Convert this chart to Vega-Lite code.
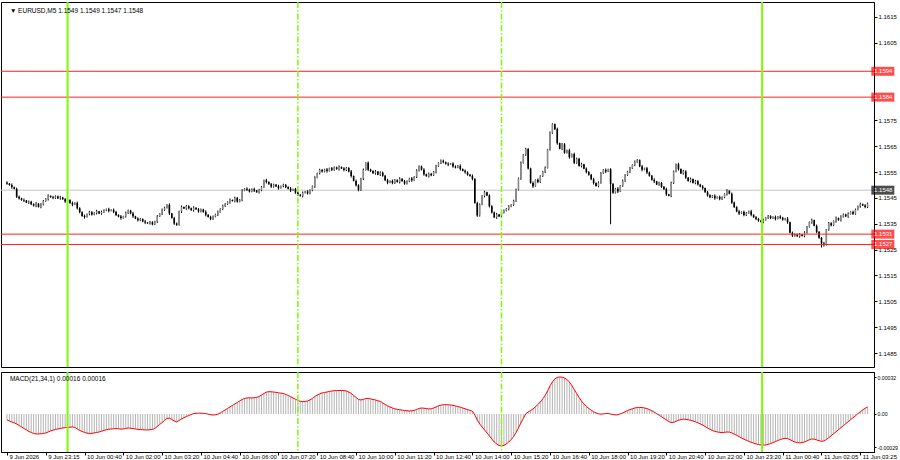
{
"$schema": "https://vega.github.io/schema/vega-lite/v6.json",
"background": "#ffffff",
"padding": 0,
"autosize": {"type": "pad"},
"spacing": 1,
"config": {
  "view": {"stroke": "#000000", "strokeWidth": 1},
  "font": "Liberation Sans",
  "axis": {"grid": false, "domainColor": "#000000", "tickColor": "#000000", "labelColor": "#000000", "labelFont": "Liberation Sans", "labelFontSize": 6, "tickSize": 3}
},
"datasets": {
"levels": [{"p":1.1594,"kind":"level"},{"p":1.1584,"kind":"level"},{"p":1.1548,"kind":"bid"},{"p":1.1531,"kind":"level"},{"p":1.1527,"kind":"level"}],
"vlines": [{"i":25,"kind":"solid"},{"i":120,"kind":"dashdot"},{"i":204,"kind":"dashdot"},{"i":311.5,"kind":"solid"}],
"bars": [
{"i":0,"o":1.15510,"h":1.15514,"l":1.15501,"c":1.15505,"m":-0.000052},
{"i":1,"o":1.15505,"h":1.15508,"l":1.15497,"c":1.15500,"m":-0.000061},
{"i":2,"o":1.15500,"h":1.15506,"l":1.15486,"c":1.15492,"m":-0.000070},
{"i":3,"o":1.15492,"h":1.15494,"l":1.15483,"c":1.15485,"m":-0.000078},
{"i":4,"o":1.15485,"h":1.15490,"l":1.15450,"c":1.15455,"m":-0.000087},
{"i":5,"o":1.15455,"h":1.15459,"l":1.15444,"c":1.15448,"m":-0.000100},
{"i":6,"o":1.15448,"h":1.15451,"l":1.15439,"c":1.15442,"m":-0.000113},
{"i":7,"o":1.15442,"h":1.15448,"l":1.15434,"c":1.15440,"m":-0.000126},
{"i":8,"o":1.15440,"h":1.15442,"l":1.15430,"c":1.15432,"m":-0.000139},
{"i":9,"o":1.15432,"h":1.15440,"l":1.15427,"c":1.15435,"m":-0.000152},
{"i":10,"o":1.15435,"h":1.15439,"l":1.15422,"c":1.15426,"m":-0.000161},
{"i":11,"o":1.15426,"h":1.15429,"l":1.15417,"c":1.15420,"m":-0.000170},
{"i":12,"o":1.15420,"h":1.15434,"l":1.15414,"c":1.15428,"m":-0.000174},
{"i":13,"o":1.15428,"h":1.15430,"l":1.15413,"c":1.15415,"m":-0.000174},
{"i":14,"o":1.15415,"h":1.15430,"l":1.15410,"c":1.15425,"m":-0.000172},
{"i":15,"o":1.15425,"h":1.15442,"l":1.15421,"c":1.15438,"m":-0.000170},
{"i":16,"o":1.15438,"h":1.15449,"l":1.15435,"c":1.15446,"m":-0.000165},
{"i":17,"o":1.15446,"h":1.15464,"l":1.15440,"c":1.15458,"m":-0.000157},
{"i":18,"o":1.15458,"h":1.15460,"l":1.15451,"c":1.15453,"m":-0.000148},
{"i":19,"o":1.15453,"h":1.15458,"l":1.15445,"c":1.15450,"m":-0.000141},
{"i":20,"o":1.15450,"h":1.15460,"l":1.15446,"c":1.15456,"m":-0.000135},
{"i":21,"o":1.15456,"h":1.15459,"l":1.15446,"c":1.15449,"m":-0.000131},
{"i":22,"o":1.15449,"h":1.15458,"l":1.15443,"c":1.15452,"m":-0.000126},
{"i":23,"o":1.15452,"h":1.15454,"l":1.15443,"c":1.15445,"m":-0.000122},
{"i":24,"o":1.15445,"h":1.15450,"l":1.15431,"c":1.15436,"m":-0.000119},
{"i":25,"o":1.15436,"h":1.15446,"l":1.15432,"c":1.15442,"m":-0.000117},
{"i":26,"o":1.15442,"h":1.15445,"l":1.15427,"c":1.15430,"m":-0.000115},
{"i":27,"o":1.15430,"h":1.15436,"l":1.15418,"c":1.15424,"m":-0.000113},
{"i":28,"o":1.15424,"h":1.15433,"l":1.15422,"c":1.15431,"m":-0.000117},
{"i":29,"o":1.15431,"h":1.15436,"l":1.15405,"c":1.15410,"m":-0.000131},
{"i":30,"o":1.15410,"h":1.15414,"l":1.15391,"c":1.15395,"m":-0.000144},
{"i":31,"o":1.15395,"h":1.15398,"l":1.15377,"c":1.15380,"m":-0.000152},
{"i":32,"o":1.15380,"h":1.15386,"l":1.15370,"c":1.15376,"m":-0.000161},
{"i":33,"o":1.15376,"h":1.15390,"l":1.15374,"c":1.15388,"m":-0.000167},
{"i":34,"o":1.15388,"h":1.15400,"l":1.15383,"c":1.15395,"m":-0.000170},
{"i":35,"o":1.15395,"h":1.15399,"l":1.15382,"c":1.15386,"m":-0.000169},
{"i":36,"o":1.15386,"h":1.15395,"l":1.15383,"c":1.15392,"m":-0.000165},
{"i":37,"o":1.15392,"h":1.15404,"l":1.15386,"c":1.15398,"m":-0.000161},
{"i":38,"o":1.15398,"h":1.15400,"l":1.15388,"c":1.15390,"m":-0.000157},
{"i":39,"o":1.15390,"h":1.15401,"l":1.15385,"c":1.15396,"m":-0.000150},
{"i":40,"o":1.15396,"h":1.15406,"l":1.15392,"c":1.15402,"m":-0.000143},
{"i":41,"o":1.15402,"h":1.15409,"l":1.15399,"c":1.15406,"m":-0.000137},
{"i":42,"o":1.15406,"h":1.15412,"l":1.15394,"c":1.15400,"m":-0.000133},
{"i":43,"o":1.15400,"h":1.15406,"l":1.15398,"c":1.15404,"m":-0.000131},
{"i":44,"o":1.15404,"h":1.15409,"l":1.15391,"c":1.15396,"m":-0.000129},
{"i":45,"o":1.15396,"h":1.15400,"l":1.15380,"c":1.15384,"m":-0.000127},
{"i":46,"o":1.15384,"h":1.15387,"l":1.15375,"c":1.15378,"m":-0.000129},
{"i":47,"o":1.15378,"h":1.15384,"l":1.15366,"c":1.15372,"m":-0.000132},
{"i":48,"o":1.15372,"h":1.15381,"l":1.15370,"c":1.15379,"m":-0.000131},
{"i":49,"o":1.15379,"h":1.15397,"l":1.15374,"c":1.15392,"m":-0.000126},
{"i":50,"o":1.15392,"h":1.15405,"l":1.15388,"c":1.15401,"m":-0.000122},
{"i":51,"o":1.15401,"h":1.15404,"l":1.15387,"c":1.15390,"m":-0.000124},
{"i":52,"o":1.15390,"h":1.15396,"l":1.15373,"c":1.15379,"m":-0.000127},
{"i":53,"o":1.15379,"h":1.15381,"l":1.15368,"c":1.15370,"m":-0.000131},
{"i":54,"o":1.15370,"h":1.15375,"l":1.15359,"c":1.15364,"m":-0.000134},
{"i":55,"o":1.15364,"h":1.15372,"l":1.15360,"c":1.15368,"m":-0.000136},
{"i":56,"o":1.15368,"h":1.15371,"l":1.15356,"c":1.15359,"m":-0.000137},
{"i":57,"o":1.15359,"h":1.15365,"l":1.15349,"c":1.15355,"m":-0.000139},
{"i":58,"o":1.15355,"h":1.15357,"l":1.15350,"c":1.15352,"m":-0.000139},
{"i":59,"o":1.15352,"h":1.15361,"l":1.15347,"c":1.15356,"m":-0.000137},
{"i":60,"o":1.15356,"h":1.15360,"l":1.15344,"c":1.15348,"m":-0.000136},
{"i":61,"o":1.15348,"h":1.15362,"l":1.15345,"c":1.15359,"m":-0.000126},
{"i":62,"o":1.15359,"h":1.15384,"l":1.15353,"c":1.15378,"m":-0.000109},
{"i":63,"o":1.15378,"h":1.15391,"l":1.15376,"c":1.15389,"m":-0.000091},
{"i":64,"o":1.15389,"h":1.15409,"l":1.15384,"c":1.15404,"m":-0.000074},
{"i":65,"o":1.15404,"h":1.15416,"l":1.15400,"c":1.15412,"m":-0.000057},
{"i":66,"o":1.15412,"h":1.15426,"l":1.15409,"c":1.15423,"m":-0.000039},
{"i":67,"o":1.15423,"h":1.15429,"l":1.15384,"c":1.15390,"m":-0.000037},
{"i":68,"o":1.15390,"h":1.15392,"l":1.15370,"c":1.15372,"m":-0.000048},
{"i":69,"o":1.15372,"h":1.15377,"l":1.15346,"c":1.15351,"m":-0.000061},
{"i":70,"o":1.15351,"h":1.15355,"l":1.15342,"c":1.15346,"m":-0.000070},
{"i":71,"o":1.15346,"h":1.15401,"l":1.15343,"c":1.15398,"m":-0.000057},
{"i":72,"o":1.15398,"h":1.15421,"l":1.15392,"c":1.15415,"m":-0.000044},
{"i":73,"o":1.15415,"h":1.15417,"l":1.15407,"c":1.15409,"m":-0.000033},
{"i":74,"o":1.15409,"h":1.15423,"l":1.15404,"c":1.15418,"m":-0.000023},
{"i":75,"o":1.15418,"h":1.15422,"l":1.15406,"c":1.15410,"m":-0.000014},
{"i":76,"o":1.15410,"h":1.15413,"l":1.15400,"c":1.15403,"m":-0.000005},
{"i":77,"o":1.15403,"h":1.15418,"l":1.15397,"c":1.15412,"m":0.000003},
{"i":78,"o":1.15412,"h":1.15414,"l":1.15404,"c":1.15406,"m":0.000006},
{"i":79,"o":1.15406,"h":1.15411,"l":1.15393,"c":1.15398,"m":0.000007},
{"i":80,"o":1.15398,"h":1.15409,"l":1.15394,"c":1.15405,"m":0.000007},
{"i":81,"o":1.15405,"h":1.15408,"l":1.15393,"c":1.15396,"m":0.000005},
{"i":82,"o":1.15396,"h":1.15402,"l":1.15379,"c":1.15385,"m":0.000003},
{"i":83,"o":1.15385,"h":1.15387,"l":1.15374,"c":1.15376,"m":-0.000002},
{"i":84,"o":1.15376,"h":1.15381,"l":1.15364,"c":1.15369,"m":-0.000007},
{"i":85,"o":1.15369,"h":1.15382,"l":1.15365,"c":1.15378,"m":-0.000009},
{"i":86,"o":1.15378,"h":1.15389,"l":1.15375,"c":1.15386,"m":-0.000007},
{"i":87,"o":1.15386,"h":1.15401,"l":1.15380,"c":1.15395,"m":-0.000002},
{"i":88,"o":1.15395,"h":1.15410,"l":1.15393,"c":1.15408,"m":0.000009},
{"i":89,"o":1.15408,"h":1.15424,"l":1.15403,"c":1.15419,"m":0.000022},
{"i":90,"o":1.15419,"h":1.15430,"l":1.15415,"c":1.15426,"m":0.000035},
{"i":91,"o":1.15426,"h":1.15437,"l":1.15423,"c":1.15434,"m":0.000048},
{"i":92,"o":1.15434,"h":1.15448,"l":1.15428,"c":1.15442,"m":0.000061},
{"i":93,"o":1.15442,"h":1.15444,"l":1.15436,"c":1.15438,"m":0.000074},
{"i":94,"o":1.15438,"h":1.15455,"l":1.15433,"c":1.15450,"m":0.000087},
{"i":95,"o":1.15450,"h":1.15454,"l":1.15432,"c":1.15436,"m":0.000100},
{"i":96,"o":1.15436,"h":1.15446,"l":1.15433,"c":1.15443,"m":0.000113},
{"i":97,"o":1.15443,"h":1.15484,"l":1.15437,"c":1.15478,"m":0.000126},
{"i":98,"o":1.15478,"h":1.15488,"l":1.15476,"c":1.15486,"m":0.000135},
{"i":99,"o":1.15486,"h":1.15491,"l":1.15477,"c":1.15482,"m":0.000139},
{"i":100,"o":1.15482,"h":1.15486,"l":1.15471,"c":1.15475,"m":0.000141},
{"i":101,"o":1.15475,"h":1.15487,"l":1.15472,"c":1.15484,"m":0.000139},
{"i":102,"o":1.15484,"h":1.15490,"l":1.15473,"c":1.15479,"m":0.000141},
{"i":103,"o":1.15479,"h":1.15481,"l":1.15470,"c":1.15472,"m":0.000144},
{"i":104,"o":1.15472,"h":1.15485,"l":1.15467,"c":1.15480,"m":0.000152},
{"i":105,"o":1.15480,"h":1.15496,"l":1.15476,"c":1.15492,"m":0.000165},
{"i":106,"o":1.15492,"h":1.15521,"l":1.15489,"c":1.15518,"m":0.000178},
{"i":107,"o":1.15518,"h":1.15524,"l":1.15506,"c":1.15512,"m":0.000190},
{"i":108,"o":1.15512,"h":1.15514,"l":1.15501,"c":1.15503,"m":0.000194},
{"i":109,"o":1.15503,"h":1.15508,"l":1.15489,"c":1.15494,"m":0.000193},
{"i":110,"o":1.15494,"h":1.15505,"l":1.15490,"c":1.15501,"m":0.000191},
{"i":111,"o":1.15501,"h":1.15504,"l":1.15492,"c":1.15495,"m":0.000188},
{"i":112,"o":1.15495,"h":1.15501,"l":1.15482,"c":1.15488,"m":0.000184},
{"i":113,"o":1.15488,"h":1.15498,"l":1.15486,"c":1.15496,"m":0.000181},
{"i":114,"o":1.15496,"h":1.15505,"l":1.15491,"c":1.15500,"m":0.000178},
{"i":115,"o":1.15500,"h":1.15504,"l":1.15488,"c":1.15492,"m":0.000170},
{"i":116,"o":1.15492,"h":1.15495,"l":1.15483,"c":1.15486,"m":0.000161},
{"i":117,"o":1.15486,"h":1.15492,"l":1.15473,"c":1.15479,"m":0.000150},
{"i":118,"o":1.15479,"h":1.15486,"l":1.15477,"c":1.15484,"m":0.000139},
{"i":119,"o":1.15484,"h":1.15489,"l":1.15466,"c":1.15471,"m":0.000129},
{"i":120,"o":1.15471,"h":1.15475,"l":1.15458,"c":1.15462,"m":0.000117},
{"i":121,"o":1.15462,"h":1.15465,"l":1.15455,"c":1.15458,"m":0.000110},
{"i":122,"o":1.15458,"h":1.15475,"l":1.15452,"c":1.15469,"m":0.000107},
{"i":123,"o":1.15469,"h":1.15477,"l":1.15467,"c":1.15475,"m":0.000109},
{"i":124,"o":1.15475,"h":1.15480,"l":1.15463,"c":1.15468,"m":0.000113},
{"i":125,"o":1.15468,"h":1.15483,"l":1.15464,"c":1.15479,"m":0.000122},
{"i":126,"o":1.15479,"h":1.15498,"l":1.15476,"c":1.15495,"m":0.000135},
{"i":127,"o":1.15495,"h":1.15534,"l":1.15489,"c":1.15528,"m":0.000152},
{"i":128,"o":1.15528,"h":1.15548,"l":1.15526,"c":1.15546,"m":0.000165},
{"i":129,"o":1.15546,"h":1.15563,"l":1.15541,"c":1.15558,"m":0.000174},
{"i":130,"o":1.15558,"h":1.15562,"l":1.15548,"c":1.15552,"m":0.000183},
{"i":131,"o":1.15552,"h":1.15563,"l":1.15549,"c":1.15560,"m":0.000187},
{"i":132,"o":1.15560,"h":1.15566,"l":1.15548,"c":1.15554,"m":0.000191},
{"i":133,"o":1.15554,"h":1.15567,"l":1.15552,"c":1.15565,"m":0.000196},
{"i":134,"o":1.15565,"h":1.15570,"l":1.15554,"c":1.15559,"m":0.000200},
{"i":135,"o":1.15559,"h":1.15572,"l":1.15555,"c":1.15568,"m":0.000202},
{"i":136,"o":1.15568,"h":1.15571,"l":1.15559,"c":1.15562,"m":0.000204},
{"i":137,"o":1.15562,"h":1.15576,"l":1.15556,"c":1.15570,"m":0.000204},
{"i":138,"o":1.15570,"h":1.15572,"l":1.15562,"c":1.15564,"m":0.000204},
{"i":139,"o":1.15564,"h":1.15569,"l":1.15553,"c":1.15558,"m":0.000203},
{"i":140,"o":1.15558,"h":1.15570,"l":1.15554,"c":1.15566,"m":0.000200},
{"i":141,"o":1.15566,"h":1.15569,"l":1.15549,"c":1.15552,"m":0.000191},
{"i":142,"o":1.15552,"h":1.15558,"l":1.15529,"c":1.15535,"m":0.000178},
{"i":143,"o":1.15535,"h":1.15537,"l":1.15514,"c":1.15516,"m":0.000161},
{"i":144,"o":1.15516,"h":1.15521,"l":1.15494,"c":1.15499,"m":0.000144},
{"i":145,"o":1.15499,"h":1.15503,"l":1.15476,"c":1.15480,"m":0.000126},
{"i":146,"o":1.15480,"h":1.15528,"l":1.15477,"c":1.15525,"m":0.000122},
{"i":147,"o":1.15525,"h":1.15564,"l":1.15519,"c":1.15558,"m":0.000126},
{"i":148,"o":1.15558,"h":1.15588,"l":1.15556,"c":1.15586,"m":0.000135},
{"i":149,"o":1.15586,"h":1.15591,"l":1.15554,"c":1.15559,"m":0.000135},
{"i":150,"o":1.15559,"h":1.15563,"l":1.15550,"c":1.15554,"m":0.000131},
{"i":151,"o":1.15554,"h":1.15557,"l":1.15543,"c":1.15546,"m":0.000126},
{"i":152,"o":1.15546,"h":1.15558,"l":1.15540,"c":1.15552,"m":0.000122},
{"i":153,"o":1.15552,"h":1.15554,"l":1.15538,"c":1.15540,"m":0.000115},
{"i":154,"o":1.15540,"h":1.15553,"l":1.15535,"c":1.15548,"m":0.000109},
{"i":155,"o":1.15548,"h":1.15552,"l":1.15532,"c":1.15536,"m":0.000096},
{"i":156,"o":1.15536,"h":1.15539,"l":1.15515,"c":1.15518,"m":0.000083},
{"i":157,"o":1.15518,"h":1.15524,"l":1.15503,"c":1.15509,"m":0.000071},
{"i":158,"o":1.15509,"h":1.15518,"l":1.15507,"c":1.15516,"m":0.000061},
{"i":159,"o":1.15516,"h":1.15521,"l":1.15503,"c":1.15508,"m":0.000052},
{"i":160,"o":1.15508,"h":1.15523,"l":1.15504,"c":1.15519,"m":0.000045},
{"i":161,"o":1.15519,"h":1.15522,"l":1.15509,"c":1.15512,"m":0.000040},
{"i":162,"o":1.15512,"h":1.15530,"l":1.15506,"c":1.15524,"m":0.000037},
{"i":163,"o":1.15524,"h":1.15526,"l":1.15513,"c":1.15515,"m":0.000033},
{"i":164,"o":1.15515,"h":1.15520,"l":1.15501,"c":1.15506,"m":0.000030},
{"i":165,"o":1.15506,"h":1.15518,"l":1.15502,"c":1.15514,"m":0.000028},
{"i":166,"o":1.15514,"h":1.15528,"l":1.15511,"c":1.15525,"m":0.000026},
{"i":167,"o":1.15525,"h":1.15531,"l":1.15512,"c":1.15518,"m":0.000028},
{"i":168,"o":1.15518,"h":1.15534,"l":1.15516,"c":1.15532,"m":0.000031},
{"i":169,"o":1.15532,"h":1.15561,"l":1.15527,"c":1.15556,"m":0.000039},
{"i":170,"o":1.15556,"h":1.15576,"l":1.15552,"c":1.15572,"m":0.000048},
{"i":171,"o":1.15572,"h":1.15575,"l":1.15556,"c":1.15559,"m":0.000052},
{"i":172,"o":1.15559,"h":1.15565,"l":1.15536,"c":1.15542,"m":0.000050},
{"i":173,"o":1.15542,"h":1.15544,"l":1.15532,"c":1.15534,"m":0.000047},
{"i":174,"o":1.15534,"h":1.15548,"l":1.15529,"c":1.15543,"m":0.000044},
{"i":175,"o":1.15543,"h":1.15547,"l":1.15534,"c":1.15538,"m":0.000045},
{"i":176,"o":1.15538,"h":1.15554,"l":1.15535,"c":1.15551,"m":0.000052},
{"i":177,"o":1.15551,"h":1.15578,"l":1.15545,"c":1.15572,"m":0.000061},
{"i":178,"o":1.15572,"h":1.15588,"l":1.15570,"c":1.15586,"m":0.000070},
{"i":179,"o":1.15586,"h":1.15599,"l":1.15581,"c":1.15594,"m":0.000077},
{"i":180,"o":1.15594,"h":1.15598,"l":1.15584,"c":1.15588,"m":0.000080},
{"i":181,"o":1.15588,"h":1.15591,"l":1.15579,"c":1.15582,"m":0.000081},
{"i":182,"o":1.15582,"h":1.15588,"l":1.15573,"c":1.15579,"m":0.000080},
{"i":183,"o":1.15579,"h":1.15585,"l":1.15577,"c":1.15583,"m":0.000078},
{"i":184,"o":1.15583,"h":1.15588,"l":1.15567,"c":1.15572,"m":0.000075},
{"i":185,"o":1.15572,"h":1.15576,"l":1.15564,"c":1.15568,"m":0.000070},
{"i":186,"o":1.15568,"h":1.15577,"l":1.15565,"c":1.15574,"m":0.000064},
{"i":187,"o":1.15574,"h":1.15580,"l":1.15556,"c":1.15562,"m":0.000059},
{"i":188,"o":1.15562,"h":1.15564,"l":1.15553,"c":1.15555,"m":0.000052},
{"i":189,"o":1.15555,"h":1.15560,"l":1.15544,"c":1.15549,"m":0.000045},
{"i":190,"o":1.15549,"h":1.15553,"l":1.15536,"c":1.15540,"m":0.000038},
{"i":191,"o":1.15540,"h":1.15543,"l":1.15532,"c":1.15535,"m":0.000031},
{"i":192,"o":1.15535,"h":1.15541,"l":1.15518,"c":1.15524,"m":0.000024},
{"i":193,"o":1.15524,"h":1.15526,"l":1.15428,"c":1.15430,"m":-0.000009},
{"i":194,"o":1.15430,"h":1.15435,"l":1.15377,"c":1.15382,"m":-0.000052},
{"i":195,"o":1.15382,"h":1.15429,"l":1.15378,"c":1.15425,"m":-0.000087},
{"i":196,"o":1.15425,"h":1.15461,"l":1.15422,"c":1.15458,"m":-0.000113},
{"i":197,"o":1.15458,"h":1.15478,"l":1.15452,"c":1.15472,"m":-0.000139},
{"i":198,"o":1.15472,"h":1.15474,"l":1.15457,"c":1.15459,"m":-0.000165},
{"i":199,"o":1.15459,"h":1.15464,"l":1.15413,"c":1.15418,"m":-0.000191},
{"i":200,"o":1.15418,"h":1.15422,"l":1.15390,"c":1.15394,"m":-0.000218},
{"i":201,"o":1.15394,"h":1.15397,"l":1.15372,"c":1.15375,"m":-0.000244},
{"i":202,"o":1.15375,"h":1.15392,"l":1.15369,"c":1.15386,"m":-0.000261},
{"i":203,"o":1.15386,"h":1.15388,"l":1.15376,"c":1.15378,"m":-0.000274},
{"i":204,"o":1.15378,"h":1.15399,"l":1.15373,"c":1.15394,"m":-0.000278},
{"i":205,"o":1.15394,"h":1.15405,"l":1.15390,"c":1.15401,"m":-0.000274},
{"i":206,"o":1.15401,"h":1.15411,"l":1.15398,"c":1.15408,"m":-0.000261},
{"i":207,"o":1.15408,"h":1.15422,"l":1.15402,"c":1.15416,"m":-0.000244},
{"i":208,"o":1.15416,"h":1.15426,"l":1.15414,"c":1.15424,"m":-0.000222},
{"i":209,"o":1.15424,"h":1.15443,"l":1.15419,"c":1.15438,"m":-0.000196},
{"i":210,"o":1.15438,"h":1.15486,"l":1.15434,"c":1.15482,"m":-0.000161},
{"i":211,"o":1.15482,"h":1.15529,"l":1.15479,"c":1.15526,"m":-0.000122},
{"i":212,"o":1.15526,"h":1.15591,"l":1.15520,"c":1.15585,"m":-0.000078},
{"i":213,"o":1.15585,"h":1.15620,"l":1.15583,"c":1.15618,"m":-0.000039},
{"i":214,"o":1.15618,"h":1.15644,"l":1.15613,"c":1.15639,"m":0.000001},
{"i":215,"o":1.15639,"h":1.15643,"l":1.15560,"c":1.15564,"m":0.000017},
{"i":216,"o":1.15564,"h":1.15567,"l":1.15505,"c":1.15508,"m":0.000030},
{"i":217,"o":1.15508,"h":1.15514,"l":1.15489,"c":1.15495,"m":0.000044},
{"i":218,"o":1.15495,"h":1.15522,"l":1.15493,"c":1.15520,"m":0.000061},
{"i":219,"o":1.15520,"h":1.15525,"l":1.15507,"c":1.15512,"m":0.000083},
{"i":220,"o":1.15512,"h":1.15538,"l":1.15508,"c":1.15534,"m":0.000104},
{"i":221,"o":1.15534,"h":1.15555,"l":1.15531,"c":1.15552,"m":0.000131},
{"i":222,"o":1.15552,"h":1.15572,"l":1.15546,"c":1.15566,"m":0.000161},
{"i":223,"o":1.15566,"h":1.15640,"l":1.15564,"c":1.15638,"m":0.000200},
{"i":224,"o":1.15638,"h":1.15707,"l":1.15633,"c":1.15702,"m":0.000244},
{"i":225,"o":1.15702,"h":1.15739,"l":1.15698,"c":1.15735,"m":0.000278},
{"i":226,"o":1.15735,"h":1.15738,"l":1.15713,"c":1.15716,"m":0.000305},
{"i":227,"o":1.15716,"h":1.15722,"l":1.15656,"c":1.15662,"m":0.000318},
{"i":228,"o":1.15662,"h":1.15664,"l":1.15638,"c":1.15640,"m":0.000322},
{"i":229,"o":1.15640,"h":1.15663,"l":1.15635,"c":1.15658,"m":0.000320},
{"i":230,"o":1.15658,"h":1.15662,"l":1.15621,"c":1.15625,"m":0.000313},
{"i":231,"o":1.15625,"h":1.15637,"l":1.15622,"c":1.15634,"m":0.000300},
{"i":232,"o":1.15634,"h":1.15640,"l":1.15602,"c":1.15608,"m":0.000278},
{"i":233,"o":1.15608,"h":1.15622,"l":1.15606,"c":1.15620,"m":0.000248},
{"i":234,"o":1.15620,"h":1.15625,"l":1.15581,"c":1.15586,"m":0.000213},
{"i":235,"o":1.15586,"h":1.15606,"l":1.15582,"c":1.15602,"m":0.000178},
{"i":236,"o":1.15602,"h":1.15605,"l":1.15571,"c":1.15574,"m":0.000144},
{"i":237,"o":1.15574,"h":1.15586,"l":1.15568,"c":1.15580,"m":0.000113},
{"i":238,"o":1.15580,"h":1.15582,"l":1.15561,"c":1.15563,"m":0.000087},
{"i":239,"o":1.15563,"h":1.15568,"l":1.15545,"c":1.15550,"m":0.000065},
{"i":240,"o":1.15550,"h":1.15554,"l":1.15536,"c":1.15540,"m":0.000048},
{"i":241,"o":1.15540,"h":1.15543,"l":1.15519,"c":1.15522,"m":0.000033},
{"i":242,"o":1.15522,"h":1.15528,"l":1.15502,"c":1.15508,"m":0.000019},
{"i":243,"o":1.15508,"h":1.15510,"l":1.15494,"c":1.15496,"m":0.000009},
{"i":244,"o":1.15496,"h":1.15514,"l":1.15491,"c":1.15509,"m":0.000002},
{"i":245,"o":1.15509,"h":1.15550,"l":1.15505,"c":1.15546,"m":-0.000002},
{"i":246,"o":1.15546,"h":1.15561,"l":1.15543,"c":1.15558,"m":0.000001},
{"i":247,"o":1.15558,"h":1.15564,"l":1.15546,"c":1.15552,"m":0.000003},
{"i":248,"o":1.15552,"h":1.15563,"l":1.15550,"c":1.15561,"m":0.000005},
{"i":249,"o":1.15561,"h":1.15565,"l":1.15348,"c":1.15504,"m":-0.000001},
{"i":250,"o":1.15504,"h":1.15508,"l":1.15466,"c":1.15470,"m":-0.000005},
{"i":251,"o":1.15470,"h":1.15489,"l":1.15467,"c":1.15486,"m":-0.000009},
{"i":252,"o":1.15486,"h":1.15492,"l":1.15469,"c":1.15475,"m":-0.000007},
{"i":253,"o":1.15475,"h":1.15500,"l":1.15473,"c":1.15498,"m":0.000001},
{"i":254,"o":1.15498,"h":1.15521,"l":1.15493,"c":1.15516,"m":0.000009},
{"i":255,"o":1.15516,"h":1.15542,"l":1.15512,"c":1.15538,"m":0.000019},
{"i":256,"o":1.15538,"h":1.15555,"l":1.15535,"c":1.15552,"m":0.000030},
{"i":257,"o":1.15552,"h":1.15570,"l":1.15546,"c":1.15564,"m":0.000038},
{"i":258,"o":1.15564,"h":1.15580,"l":1.15562,"c":1.15578,"m":0.000045},
{"i":259,"o":1.15578,"h":1.15595,"l":1.15573,"c":1.15590,"m":0.000052},
{"i":260,"o":1.15590,"h":1.15600,"l":1.15586,"c":1.15596,"m":0.000056},
{"i":261,"o":1.15596,"h":1.15599,"l":1.15569,"c":1.15572,"m":0.000057},
{"i":262,"o":1.15572,"h":1.15578,"l":1.15553,"c":1.15559,"m":0.000056},
{"i":263,"o":1.15559,"h":1.15567,"l":1.15557,"c":1.15565,"m":0.000052},
{"i":264,"o":1.15565,"h":1.15570,"l":1.15543,"c":1.15548,"m":0.000047},
{"i":265,"o":1.15548,"h":1.15552,"l":1.15532,"c":1.15536,"m":0.000038},
{"i":266,"o":1.15536,"h":1.15539,"l":1.15517,"c":1.15520,"m":0.000028},
{"i":267,"o":1.15520,"h":1.15526,"l":1.15508,"c":1.15514,"m":0.000016},
{"i":268,"o":1.15514,"h":1.15516,"l":1.15500,"c":1.15502,"m":0.000003},
{"i":269,"o":1.15502,"h":1.15513,"l":1.15497,"c":1.15508,"m":-0.000010},
{"i":270,"o":1.15508,"h":1.15512,"l":1.15489,"c":1.15493,"m":-0.000024},
{"i":271,"o":1.15493,"h":1.15496,"l":1.15481,"c":1.15484,"m":-0.000038},
{"i":272,"o":1.15484,"h":1.15490,"l":1.15458,"c":1.15464,"m":-0.000052},
{"i":273,"o":1.15464,"h":1.15466,"l":1.15456,"c":1.15458,"m":-0.000066},
{"i":274,"o":1.15458,"h":1.15513,"l":1.15453,"c":1.15508,"m":-0.000075},
{"i":275,"o":1.15508,"h":1.15556,"l":1.15504,"c":1.15552,"m":-0.000073},
{"i":276,"o":1.15552,"h":1.15583,"l":1.15549,"c":1.15580,"m":-0.000064},
{"i":277,"o":1.15580,"h":1.15586,"l":1.15556,"c":1.15562,"m":-0.000054},
{"i":278,"o":1.15562,"h":1.15564,"l":1.15543,"c":1.15545,"m":-0.000049},
{"i":279,"o":1.15545,"h":1.15558,"l":1.15540,"c":1.15553,"m":-0.000045},
{"i":280,"o":1.15553,"h":1.15557,"l":1.15524,"c":1.15528,"m":-0.000047},
{"i":281,"o":1.15528,"h":1.15531,"l":1.15513,"c":1.15516,"m":-0.000050},
{"i":282,"o":1.15516,"h":1.15529,"l":1.15510,"c":1.15523,"m":-0.000056},
{"i":283,"o":1.15523,"h":1.15525,"l":1.15506,"c":1.15508,"m":-0.000061},
{"i":284,"o":1.15508,"h":1.15520,"l":1.15503,"c":1.15515,"m":-0.000068},
{"i":285,"o":1.15515,"h":1.15519,"l":1.15498,"c":1.15502,"m":-0.000077},
{"i":286,"o":1.15502,"h":1.15505,"l":1.15491,"c":1.15494,"m":-0.000087},
{"i":287,"o":1.15494,"h":1.15500,"l":1.15482,"c":1.15488,"m":-0.000097},
{"i":288,"o":1.15488,"h":1.15490,"l":1.15470,"c":1.15472,"m":-0.000110},
{"i":289,"o":1.15472,"h":1.15477,"l":1.15455,"c":1.15460,"m":-0.000122},
{"i":290,"o":1.15460,"h":1.15464,"l":1.15449,"c":1.15453,"m":-0.000134},
{"i":291,"o":1.15453,"h":1.15461,"l":1.15450,"c":1.15458,"m":-0.000144},
{"i":292,"o":1.15458,"h":1.15464,"l":1.15443,"c":1.15449,"m":-0.000151},
{"i":293,"o":1.15449,"h":1.15456,"l":1.15447,"c":1.15454,"m":-0.000157},
{"i":294,"o":1.15454,"h":1.15459,"l":1.15441,"c":1.15446,"m":-0.000160},
{"i":295,"o":1.15446,"h":1.15456,"l":1.15442,"c":1.15452,"m":-0.000162},
{"i":296,"o":1.15452,"h":1.15468,"l":1.15449,"c":1.15465,"m":-0.000160},
{"i":297,"o":1.15465,"h":1.15484,"l":1.15459,"c":1.15478,"m":-0.000157},
{"i":298,"o":1.15478,"h":1.15480,"l":1.15464,"c":1.15466,"m":-0.000158},
{"i":299,"o":1.15466,"h":1.15471,"l":1.15427,"c":1.15432,"m":-0.000165},
{"i":300,"o":1.15432,"h":1.15436,"l":1.15411,"c":1.15415,"m":-0.000176},
{"i":301,"o":1.15415,"h":1.15418,"l":1.15395,"c":1.15398,"m":-0.000186},
{"i":302,"o":1.15398,"h":1.15404,"l":1.15384,"c":1.15390,"m":-0.000197},
{"i":303,"o":1.15390,"h":1.15398,"l":1.15388,"c":1.15396,"m":-0.000209},
{"i":304,"o":1.15396,"h":1.15401,"l":1.15379,"c":1.15384,"m":-0.000219},
{"i":305,"o":1.15384,"h":1.15396,"l":1.15380,"c":1.15392,"m":-0.000230},
{"i":306,"o":1.15392,"h":1.15401,"l":1.15389,"c":1.15398,"m":-0.000238},
{"i":307,"o":1.15398,"h":1.15404,"l":1.15379,"c":1.15385,"m":-0.000247},
{"i":308,"o":1.15385,"h":1.15387,"l":1.15373,"c":1.15375,"m":-0.000254},
{"i":309,"o":1.15375,"h":1.15380,"l":1.15364,"c":1.15369,"m":-0.000261},
{"i":310,"o":1.15369,"h":1.15373,"l":1.15358,"c":1.15362,"m":-0.000266},
{"i":311,"o":1.15362,"h":1.15365,"l":1.15355,"c":1.15358,"m":-0.000270},
{"i":312,"o":1.15358,"h":1.15370,"l":1.15352,"c":1.15364,"m":-0.000271},
{"i":313,"o":1.15364,"h":1.15376,"l":1.15362,"c":1.15374,"m":-0.000270},
{"i":314,"o":1.15374,"h":1.15384,"l":1.15369,"c":1.15379,"m":-0.000264},
{"i":315,"o":1.15379,"h":1.15383,"l":1.15368,"c":1.15372,"m":-0.000258},
{"i":316,"o":1.15372,"h":1.15379,"l":1.15369,"c":1.15376,"m":-0.000249},
{"i":317,"o":1.15376,"h":1.15382,"l":1.15363,"c":1.15369,"m":-0.000240},
{"i":318,"o":1.15369,"h":1.15380,"l":1.15367,"c":1.15378,"m":-0.000231},
{"i":319,"o":1.15378,"h":1.15383,"l":1.15368,"c":1.15373,"m":-0.000223},
{"i":320,"o":1.15373,"h":1.15377,"l":1.15362,"c":1.15366,"m":-0.000216},
{"i":321,"o":1.15366,"h":1.15373,"l":1.15363,"c":1.15370,"m":-0.000212},
{"i":322,"o":1.15370,"h":1.15376,"l":1.15350,"c":1.15356,"m":-0.000214},
{"i":323,"o":1.15356,"h":1.15358,"l":1.15313,"c":1.15315,"m":-0.000223},
{"i":324,"o":1.15315,"h":1.15320,"l":1.15299,"c":1.15304,"m":-0.000235},
{"i":325,"o":1.15304,"h":1.15313,"l":1.15300,"c":1.15309,"m":-0.000244},
{"i":326,"o":1.15309,"h":1.15312,"l":1.15299,"c":1.15302,"m":-0.000249},
{"i":327,"o":1.15302,"h":1.15314,"l":1.15296,"c":1.15308,"m":-0.000251},
{"i":328,"o":1.15308,"h":1.15310,"l":1.15301,"c":1.15303,"m":-0.000249},
{"i":329,"o":1.15303,"h":1.15321,"l":1.15298,"c":1.15316,"m":-0.000244},
{"i":330,"o":1.15316,"h":1.15342,"l":1.15312,"c":1.15338,"m":-0.000235},
{"i":331,"o":1.15338,"h":1.15359,"l":1.15335,"c":1.15356,"m":-0.000224},
{"i":332,"o":1.15356,"h":1.15370,"l":1.15350,"c":1.15364,"m":-0.000218},
{"i":333,"o":1.15364,"h":1.15366,"l":1.15340,"c":1.15342,"m":-0.000219},
{"i":334,"o":1.15342,"h":1.15347,"l":1.15313,"c":1.15318,"m":-0.000226},
{"i":335,"o":1.15318,"h":1.15322,"l":1.15292,"c":1.15296,"m":-0.000233},
{"i":336,"o":1.15296,"h":1.15299,"l":1.15258,"c":1.15274,"m":-0.000238},
{"i":337,"o":1.15274,"h":1.15280,"l":1.15262,"c":1.15268,"m":-0.000235},
{"i":338,"o":1.15268,"h":1.15330,"l":1.15266,"c":1.15328,"m":-0.000223},
{"i":339,"o":1.15328,"h":1.15357,"l":1.15323,"c":1.15352,"m":-0.000207},
{"i":340,"o":1.15352,"h":1.15356,"l":1.15340,"c":1.15344,"m":-0.000190},
{"i":341,"o":1.15344,"h":1.15363,"l":1.15341,"c":1.15360,"m":-0.000172},
{"i":342,"o":1.15360,"h":1.15378,"l":1.15354,"c":1.15372,"m":-0.000155},
{"i":343,"o":1.15372,"h":1.15374,"l":1.15362,"c":1.15364,"m":-0.000137},
{"i":344,"o":1.15364,"h":1.15383,"l":1.15359,"c":1.15378,"m":-0.000120},
{"i":345,"o":1.15378,"h":1.15390,"l":1.15374,"c":1.15386,"m":-0.000103},
{"i":346,"o":1.15386,"h":1.15389,"l":1.15376,"c":1.15379,"m":-0.000085},
{"i":347,"o":1.15379,"h":1.15394,"l":1.15373,"c":1.15388,"m":-0.000068},
{"i":348,"o":1.15388,"h":1.15398,"l":1.15386,"c":1.15396,"m":-0.000050},
{"i":349,"o":1.15396,"h":1.15401,"l":1.15384,"c":1.15389,"m":-0.000033},
{"i":350,"o":1.15389,"h":1.15409,"l":1.15385,"c":1.15405,"m":-0.000016},
{"i":351,"o":1.15405,"h":1.15421,"l":1.15402,"c":1.15418,"m":0.000002},
{"i":352,"o":1.15418,"h":1.15432,"l":1.15412,"c":1.15426,"m":0.000019},
{"i":353,"o":1.15426,"h":1.15428,"l":1.15419,"c":1.15421,"m":0.000035},
{"i":354,"o":1.15421,"h":1.15426,"l":1.15410,"c":1.15415,"m":0.000049},
{"i":355,"o":1.15415,"h":1.15432,"l":1.15411,"c":1.15428,"m":0.000061}
]
},
"vconcat": [
{
  "width": 873,
  "height": 365,
  "resolve": {"axis": {"x": "independent", "y": "independent"}},
  "layer": [
    {
      "data": {"name": "levels"},
      "transform": [{"filter": "datum.kind == 'bid'"}],
      "mark": {"type": "rule", "color": "#c4c4c4", "strokeWidth": 1},
      "encoding": {
        "y": {"field": "p", "type": "quantitative", "scale": {"domain": [1.14796, 1.16208], "nice": false, "zero": false},
              "axis": {"orient": "right", "values": [1.1485,1.1495,1.1505,1.1515,1.1525,1.1535,1.1545,1.1555,1.1565,1.1575,1.1605,1.1615], "format": ".4f", "labelPadding": 1, "labelFontSize": 6, "title": null}}
      }
    },
    {
      "data": {"name": "bars"},
      "mark": {"type": "rule", "color": "#000000", "strokeWidth": 1},
      "encoding": {
        "x": {"field": "i", "type": "quantitative", "scale": {"domain": [-0.4, 355.6], "nice": false, "zero": false}, "axis": null},
        "y": {"field": "l", "type": "quantitative", "scale": {"domain": [1.14796, 1.16208], "nice": false, "zero": false}, "axis": null},
        "y2": {"field": "h"}
      }
    },
    {
      "data": {"name": "bars"},
      "mark": {"type": "bar", "width": 1.6},
      "encoding": {
        "x": {"field": "i", "type": "quantitative", "scale": {"domain": [-0.4, 355.6], "nice": false, "zero": false}, "axis": null},
        "y": {"field": "o", "type": "quantitative", "scale": {"domain": [1.14796, 1.16208], "nice": false, "zero": false}, "axis": null},
        "y2": {"field": "c"},
        "color": {"condition": {"test": "datum.c >= datum.o", "value": "#8c8c8c"}, "value": "#000000"}
      }
    },
    {
      "data": {"name": "levels"},
      "transform": [{"filter": "datum.kind == 'level'"}],
      "mark": {"type": "rule", "color": "#ff2020", "strokeWidth": 1},
      "encoding": {
        "y": {"field": "p", "type": "quantitative", "scale": {"domain": [1.14796, 1.16208], "nice": false, "zero": false}, "axis": null}
      }
    },
    {
      "data": {"name": "vlines"},
      "transform": [{"filter": "datum.kind == 'solid'"}],
      "mark": {"type": "rule", "color": "#7cfc00", "strokeWidth": 2},
      "encoding": {
        "x": {"field": "i", "type": "quantitative", "scale": {"domain": [-0.4, 355.6], "nice": false, "zero": false}, "axis": null}
      }
    },
    {
      "data": {"name": "vlines"},
      "transform": [{"filter": "datum.kind == 'dashdot'"}],
      "mark": {"type": "rule", "color": "#7cfc00", "strokeWidth": 1.5, "strokeDash": [6, 2, 1.5, 2]},
      "encoding": {
        "x": {"field": "i", "type": "quantitative", "scale": {"domain": [-0.4, 355.6], "nice": false, "zero": false}, "axis": null}
      }
    },
    {
      "data": {"values": [{"label": "▼ EURUSD,M5  1.1549 1.1549 1.1547 1.1548"}]},
      "mark": {"type": "text", "align": "left", "baseline": "middle", "fontSize": 6.5, "color": "#000000"},
      "encoding": {
        "x": {"datum": 1.2, "type": "quantitative", "scale": {"domain": [-0.4, 355.6], "nice": false, "zero": false}, "axis": null},
        "y": {"datum": 1.16173, "type": "quantitative", "scale": {"domain": [1.14796, 1.16208], "nice": false, "zero": false}, "axis": null},
        "text": {"field": "label", "type": "nominal"}
      }
    },
    {
      "data": {"name": "levels"},
      "mark": {"type": "tick", "orient": "horizontal", "size": 23, "thickness": 9},
      "encoding": {
        "x": {"datum": 361.3, "type": "quantitative", "scale": {"domain": [-0.4, 355.6], "nice": false, "zero": false}, "axis": null},
        "y": {"field": "p", "type": "quantitative", "scale": {"domain": [1.14796, 1.16208], "nice": false, "zero": false}, "axis": null},
        "color": {"field": "kind", "type": "nominal", "scale": {"domain": ["level", "bid"], "range": ["#ff0000", "#000000"]}, "legend": null}
      }
    },
    {
      "data": {"name": "levels"},
      "mark": {"type": "text", "align": "left", "baseline": "middle", "fontSize": 6, "color": "#ffffff"},
      "encoding": {
        "x": {"datum": 357.7, "type": "quantitative", "scale": {"domain": [-0.4, 355.6], "nice": false, "zero": false}, "axis": null},
        "y": {"field": "p", "type": "quantitative", "scale": {"domain": [1.14796, 1.16208], "nice": false, "zero": false}, "axis": null},
        "text": {"field": "p", "type": "quantitative", "format": ".4f"}
      }
    }
  ]
},
{
  "width": 873,
  "height": 80,
  "resolve": {"axis": {"x": "independent", "y": "independent"}},
  "layer": [
    {
      "data": {"name": "bars"},
      "mark": {"type": "bar", "width": 1, "color": "#b4b4b4"},
      "encoding": {
        "x": {"field": "i", "type": "quantitative", "scale": {"domain": [-0.4, 355.6], "nice": false, "zero": false},
              "axis": {"orient": "bottom", "values": [0,16,32,48,64,80,96,112,128,144,160,176,192,208,224,240,256,272,288,304,320,336,352],
                       "labelExpr": "['9 Jun 2026','9 Jun 23:15','10 Jun 00:40','10 Jun 02:00','10 Jun 03:20','10 Jun 04:40','10 Jun 06:00','10 Jun 07:20','10 Jun 08:40','10 Jun 10:00','10 Jun 11:20','10 Jun 12:40','10 Jun 14:00','10 Jun 15:20','10 Jun 16:40','10 Jun 18:00','10 Jun 19:20','10 Jun 20:40','10 Jun 22:00','10 Jun 23:20','11 Jun 00:40','11 Jun 02:05','11 Jun 03:25'][round(datum.value / 16)]",
                       "labelAlign": "left", "labelBaseline": "top", "labelPadding": -2, "tickSize": 3, "labelFlush": false, "labelOverlap": false, "labelBound": false, "labelFontSize": 6, "labelOffset": 2, "title": null}},
        "y": {"field": "m", "type": "quantitative", "scale": {"domain": [-0.000331, 0.000365], "nice": false, "zero": false},
              "axis": {"orient": "right", "values": [0.00032, 0, -0.00029], "labelExpr": "datum.value == 0 ? '0.00' : (datum.value < 0 ? '-' + format(-datum.value, '.5f') : format(datum.value, '.5f'))", "labelPadding": 1, "tickSize": 2, "labelFontSize": 5.2, "title": null}},
        "y2": {"datum": 0}
      }
    },
    {
      "data": {"name": "bars"},
      "mark": {"type": "line", "color": "#ff0000", "strokeWidth": 1},
      "encoding": {
        "x": {"field": "i", "type": "quantitative", "scale": {"domain": [-0.4, 355.6], "nice": false, "zero": false}, "axis": null},
        "y": {"field": "m", "type": "quantitative", "scale": {"domain": [-0.000331, 0.000365], "nice": false, "zero": false}, "axis": null}
      }
    },
    {
      "data": {"name": "vlines"},
      "transform": [{"filter": "datum.kind == 'solid'"}],
      "mark": {"type": "rule", "color": "#7cfc00", "strokeWidth": 2},
      "encoding": {
        "x": {"field": "i", "type": "quantitative", "scale": {"domain": [-0.4, 355.6], "nice": false, "zero": false}, "axis": null}
      }
    },
    {
      "data": {"name": "vlines"},
      "transform": [{"filter": "datum.kind == 'dashdot'"}],
      "mark": {"type": "rule", "color": "#7cfc00", "strokeWidth": 1.5, "strokeDash": [6, 2, 1.5, 2]},
      "encoding": {
        "x": {"field": "i", "type": "quantitative", "scale": {"domain": [-0.4, 355.6], "nice": false, "zero": false}, "axis": null}
      }
    },
    {
      "data": {"values": [{"label": "MACD(21,34,1) 0.00016 0.00016"}]},
      "mark": {"type": "text", "align": "left", "baseline": "middle", "fontSize": 6.5, "color": "#000000"},
      "encoding": {
        "x": {"datum": 1.2, "type": "quantitative", "scale": {"domain": [-0.4, 355.6], "nice": false, "zero": false}, "axis": null},
        "y": {"datum": 0.000305, "type": "quantitative", "scale": {"domain": [-0.000331, 0.000365], "nice": false, "zero": false}, "axis": null},
        "text": {"field": "label", "type": "nominal"}
      }
    }
  ]
}
]
}
